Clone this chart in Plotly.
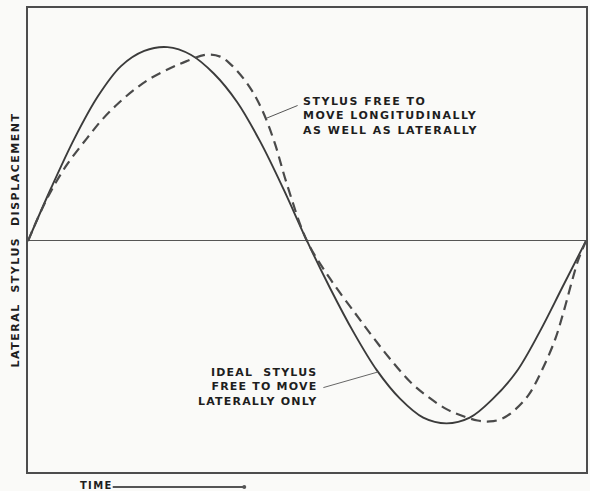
import plotly.graph_objects as go

# Time axis in degrees of one cycle; displacement in arbitrary units
ideal_time = [0, 15, 30, 45, 60, 75, 90, 105, 120, 135, 150, 165, 180,
              195, 210, 225, 240, 255, 270, 285, 300, 315, 330, 345, 360]
ideal_disp = [0.0, 0.28, 0.54, 0.76, 0.92, 1.0, 1.02, 0.98, 0.88, 0.73, 0.52, 0.27, 0.0,
              -0.25, -0.48, -0.68, -0.83, -0.93, -0.96, -0.93, -0.83, -0.69, -0.48, -0.24, 0.0]

free_time = [0, 8, 15, 25, 38, 48, 59, 70, 80, 92, 102, 115, 124, 132, 143, 151, 159, 167, 180,
             195, 211, 222, 233, 247, 258, 270, 280, 290, 298, 306, 314, 323, 331, 340, 346,
             351, 355, 360]
free_disp = [0.0, 0.15, 0.265, 0.40, 0.54, 0.64, 0.73, 0.805, 0.86, 0.91, 0.945, 0.98, 0.97,
             0.92, 0.81, 0.69, 0.52, 0.30, 0.0,
             -0.20, -0.38, -0.50, -0.615, -0.745, -0.82, -0.885, -0.92, -0.945, -0.95, -0.935,
             -0.89, -0.81, -0.69, -0.52, -0.36, -0.21, -0.10, 0.0]

y_title = "LATERAL  STYLUS  DISPLACEMENT"
note_free = ["STYLUS FREE TO", "MOVE LONGITUDINALLY", "AS WELL AS LATERALLY"]
note_ideal = ["IDEAL  STYLUS", "FREE TO MOVE", "LATERALLY ONLY"]
time_label = "TIME"

ink = "#3b3b3b"
text_ink = "#1e1e1e"
font_main = "DejaVu Sans"


def spaced(lines, spacing):
    """Join lines with <br> and widen the lettering."""
    return "<br>".join(
        '<span style="letter-spacing:%.1fpx">%s</span>' % (spacing, s) for s in lines)


fig = go.Figure()
fig.add_trace(go.Scatter(x=ideal_time, y=ideal_disp, mode="lines",
                         line=dict(color=ink, width=1.9, shape="spline", smoothing=1.0),
                         hoverinfo="skip"))
fig.add_trace(go.Scatter(x=free_time, y=free_disp, mode="lines",
                         line=dict(color="#4a4a4a", width=2.2, dash="10px,6px",
                                   shape="spline", smoothing=1.0),
                         hoverinfo="skip"))

# leader lines to each curve
fig.add_annotation(x=153.6, y=0.645, ax=174.9, ay=0.716, axref="x", ayref="y",
                   xref="x", yref="y", text="", showarrow=True,
                   arrowhead=0, arrowwidth=1, arrowcolor="#555")
fig.add_annotation(x=225.6, y=-0.69, ax=189.6, ay=-0.774, axref="x", ayref="y",
                   xref="x", yref="y", text="", showarrow=True,
                   arrowhead=0, arrowwidth=1, arrowcolor="#666")

fig.add_annotation(x=176.3, y=0.66, xref="x", yref="y", text=spaced(note_free, 1.5),
                   showarrow=False, xanchor="left", yanchor="middle", align="left",
                   font=dict(family=font_main, size=11, color=text_ink, weight="bold"))
fig.add_annotation(x=187.5, y=-0.766, xref="x", yref="y", text=spaced(note_ideal, 1.2),
                   showarrow=False, xanchor="right", yanchor="middle", align="right",
                   font=dict(family=font_main, size=11, color=text_ink, weight="bold"))

# time direction arrow below the frame
fig.add_annotation(x=0.3875, y=-0.0323, xref="paper", yref="paper", text="",
                   showarrow=True, ax=-133, ay=0, axref="pixel", ayref="pixel",
                   arrowhead=6, arrowsize=0.5, arrowwidth=2, arrowcolor="#555")
fig.add_annotation(x=0.0893, y=-0.0283, xref="paper", yref="paper",
                   text=spaced([time_label], 1.3),
                   showarrow=False, xanchor="left", yanchor="middle",
                   font=dict(family=font_main, size=10, color=text_ink, weight="bold"))

fig.update_layout(
    width=590, height=491,
    margin=dict(l=28, r=2, t=8, b=19),
    paper_bgcolor="#fafaf8", plot_bgcolor="#fafaf8",
    showlegend=False,
    xaxis=dict(range=[0, 360], showgrid=False, zeroline=False, showticklabels=False,
               ticks="", showline=True, mirror=True, linecolor="#4d4d4d", linewidth=1.6),
    yaxis=dict(range=[-1.216, 1.226], showgrid=False, zeroline=True,
               zerolinecolor="#555", zerolinewidth=1.4, showticklabels=False, ticks="",
               showline=True, mirror=True, linecolor="#4d4d4d", linewidth=1.6,
               title=dict(text=spaced([y_title], 1.5), standoff=4,
                          font=dict(family=font_main, size=11, color=text_ink, weight="bold"))),
)

fig.write_html("out.html")
